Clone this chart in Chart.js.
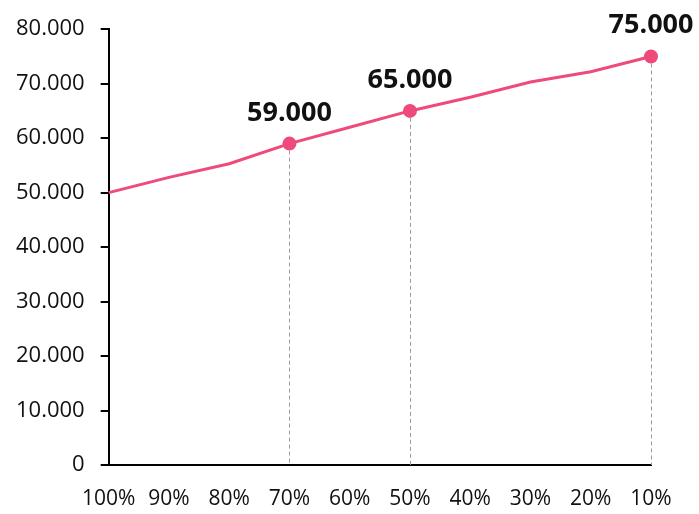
<!DOCTYPE html>
<html>
<head>
<meta charset="utf-8">
<script src="https://cdn.jsdelivr.net/npm/chart.js@4"></script>
<style>
  body { margin: 0; background: #fff; }
  #wrap { width: 699px; height: 514px; }
</style>
</head>
<body>
<div id="wrap"><canvas id="chart"></canvas></div>
<script>
const labels = ['100%', '90%', '80%', '70%', '60%', '50%', '40%', '30%', '20%', '10%'];
const values = [50000, 52800, 55300, 59000, 62000, 65000, 67500, 70300, 72200, 75000];
const marked = [3, 5, 9]; // points with dot, label and dashed drop line

const pink = '#EE4A7B';

function fmt(v) {
  return String(v).replace(/\B(?=(\d{3})+(?!\d))/g, '.');
}

// dashed drop lines + value labels for the marked points
const markPlugin = {
  id: 'marks',
  beforeDatasetsDraw(chart) {
    const ctx = chart.ctx;
    const meta = chart.getDatasetMeta(0);
    const yBottom = chart.scales.y.getPixelForValue(0);
    ctx.save();
    ctx.strokeStyle = '#9a9a9a';
    ctx.lineWidth = 1;
    ctx.setLineDash([4, 3]);
    marked.forEach(i => {
      const p = meta.data[i];
      ctx.beginPath();
      ctx.moveTo(Math.round(p.x) + 0.5, p.y);
      ctx.lineTo(Math.round(p.x) + 0.5, yBottom);
      ctx.stroke();
    });
    ctx.restore();
  },
  afterDatasetsDraw(chart) {
    const ctx = chart.ctx;
    const meta = chart.getDatasetMeta(0);
    ctx.save();
    ctx.fillStyle = '#111';
    ctx.font = 'bold 27px "Open Sans"';
    ctx.textAlign = 'center';
    ctx.textBaseline = 'alphabetic';
    marked.forEach(i => {
      const p = meta.data[i];
      ctx.fillText(fmt(values[i]), p.x, p.y - 23);
    });
    ctx.restore();
  }
};

new Chart(document.getElementById('chart'), {
  type: 'line',
  data: {
    labels: labels,
    datasets: [{
      data: values,
      borderColor: pink,
      backgroundColor: pink,
      borderWidth: 3,
      tension: 0,
      pointRadius: ctx => marked.includes(ctx.dataIndex) ? 7 : 0,
      pointHoverRadius: 0,
      pointBorderWidth: 0
    }]
  },
  options: {
    responsive: true,
    maintainAspectRatio: false,
    animation: false,
    layout: { padding: { top: 28, right: 48, left: 0, bottom: -20 } },
    plugins: { legend: { display: false }, tooltip: { enabled: false } },
    scales: {
      x: {
        offset: false,
        grid: { display: false, drawTicks: false },
        border: { display: true, color: '#000', width: 2 },
        ticks: {
          color: '#111',
          font: { family: 'Open Sans', size: 21, lineHeight: 1.0 },
          maxRotation: 0,
          autoSkip: false,
          padding: 24
        }
      },
      y: {
        min: 0,
        max: 80000,
        grid: { drawOnChartArea: false, drawTicks: true, tickLength: 8, color: '#000', lineWidth: 2 },
        border: { display: true, color: '#000', width: 2 },
        ticks: {
          stepSize: 10000,
          color: '#111',
          font: { family: 'Open Sans', size: 22 },
          padding: 16,
          callback: v => fmt(v)
        }
      }
    }
  },
  plugins: [markPlugin]
});
</script>
</body>
</html>
